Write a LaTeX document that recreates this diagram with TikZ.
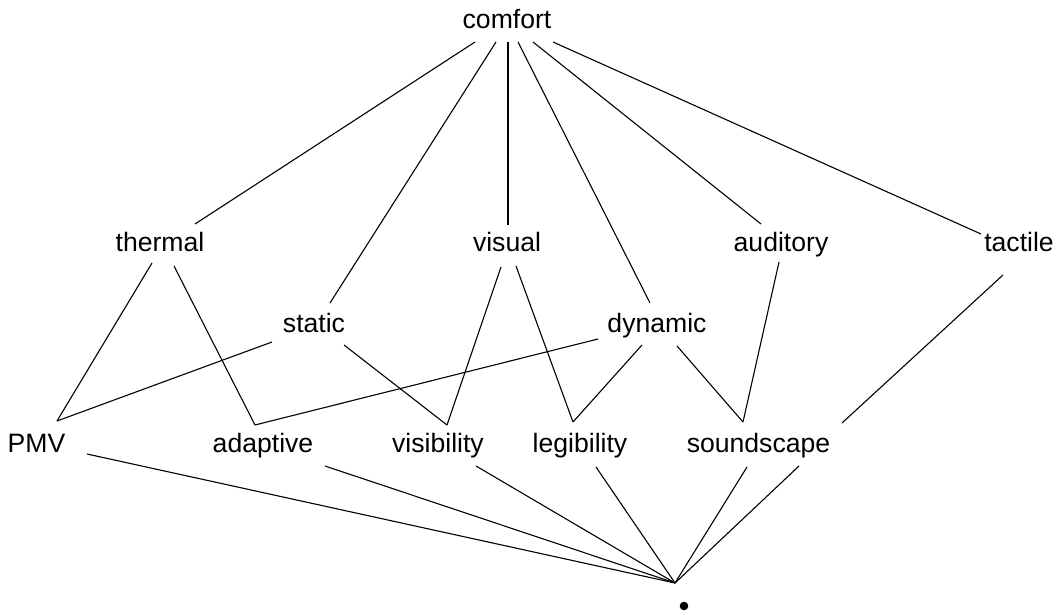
\documentclass[tikz,border=0pt]{standalone}
\usepackage{fontspec}
\setmainfont{Liberation Sans}
\usetikzlibrary{calc}

\begin{document}
\begin{tikzpicture}[x=1pt,y=-1pt,
    lbl/.style={anchor=base,inner sep=0pt,font=\fontsize{26.6}{32}\selectfont},
    edge/.style={line width=1.1pt}]
    % picture frame (1 unit = 1 pixel, y grows downwards)
    \useasboundingbox (0,0) rectangle (1058,612);

    % top element
    \node[lbl] (comfort) at (507,29) {comfort};

    % first level
    \node[lbl] (thermal) at (160,252) {thermal};
    \node[lbl] (visual) at (507,252) {visual};
    \node[lbl] (auditory) at (781,252) {auditory};
    \node[lbl] (tactile) at (1019,252) {tactile};

    % second level
    \node[lbl] (static) at (314,333) {static};
    \node[lbl] (dynamic) at (657,333) {dynamic};

    % third level
    \node[lbl] (PMV) at (36.5,452) {PMV};
    \node[lbl] (adaptive) at (263,452) {adaptive};
    \node[lbl] (visibility) at (438,452) {visibility};
    \node[lbl] (legibility) at (580,452) {legibility};
    \node[lbl] (soundscape) at (758.5,452) {soundscape};

    % bottom element and the point where its lines meet
    \node[circle,fill,inner sep=0pt,minimum size=8.6pt] (bottom) at (684,606) {};
    \coordinate (meet) at ($(bottom)+(-9,-23)$);

    % comfort down to the first and second level
    \draw[edge] ($(comfort.base)+(-32,13)$) -- ($(thermal.base)+(35,-28)$);
    \draw[edge] ($(comfort.base)+(-11,13)$) -- ($(static.base)+(16,-30)$);
    \draw[edge] ($(comfort.base)+(1,13)$) -- ($(visual.base)+(1,-27)$);
    \draw[edge] ($(comfort.base)+(11,13)$) -- ($(dynamic.base)+(-7,-30)$);
    \draw[edge] ($(comfort.base)+(26,13)$) -- ($(auditory.base)+(-20,-28)$);
    \draw[edge] ($(comfort.base)+(46,13)$) -- ($(tactile.base)+(-38,-18)$);

    % down to the third level
    \draw[edge] ($(thermal.base)+(-8,11)$) -- ($(PMV.base)+(20.5,-31)$);
    \draw[edge] ($(thermal.base)+(14,14)$) -- ($(adaptive.base)+(-8,-27)$);
    \draw[edge] ($(static.base)+(-42,9)$) -- ($(PMV.base)+(20.5,-31)$);
    \draw[edge] ($(static.base)+(30,12)$) -- ($(visibility.base)+(9,-27)$);
    \draw[edge] ($(visual.base)+(-6,15)$) -- ($(visibility.base)+(9,-27)$);
    \draw[edge] ($(visual.base)+(9,14)$) -- ($(legibility.base)+(-7,-30)$);
    \draw[edge] ($(dynamic.base)+(-59,6)$) -- ($(adaptive.base)+(-8,-27)$);
    \draw[edge] ($(dynamic.base)+(-15,12)$) -- ($(legibility.base)+(-7,-30)$);
    \draw[edge] ($(dynamic.base)+(20,13)$) -- ($(soundscape.base)+(-15.5,-30)$);
    \draw[edge] ($(auditory.base)+(-2,10)$) -- ($(soundscape.base)+(-15.5,-30)$);
    \draw[edge] ($(tactile.base)+(-16,23)$) -- ($(soundscape.base)+(83.5,-29)$);

    % third level down to the bottom
    \draw[edge] ($(PMV.base)+(50.5,2)$) -- (meet);
    \draw[edge] ($(adaptive.base)+(62,14)$) -- (meet);
    \draw[edge] ($(visibility.base)+(38,14)$) -- (meet);
    \draw[edge] ($(legibility.base)+(16,15)$) -- (meet);
    \draw[edge] ($(soundscape.base)+(-11.5,15)$) -- (meet);
    \draw[edge] ($(soundscape.base)+(40.5,14)$) -- (meet);
\end{tikzpicture}
\end{document}
